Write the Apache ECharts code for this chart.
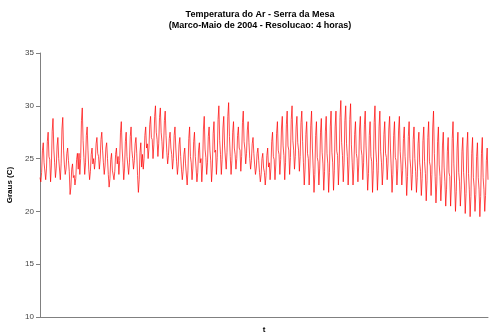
<!DOCTYPE html>
<html>
<head>
<meta charset="utf-8">
<script src="https://cdn.jsdelivr.net/npm/echarts@6/dist/echarts.min.js"></script>
<style>
html,body{margin:0;padding:0;background:#fff;}
#c{width:489px;height:332px;}
</style>
</head>
<body>
<div id="c"></div>
<script>
// Temperatura do ar, resolucao 4 horas (00h,04h,08h,12h,16h,20h), Marco-Maio 2004
var temperatura = [
23.2,22.8,23.7,25.8,26.5,24.6, 24.5,23.0,24.1,26.6,27.5,25.2, 24.9,22.8,24.3,27.6,28.8,25.9,
24.6,23.2,24.1,26.2,27.0,25.0, 25.0,23.0,24.5,27.8,28.9,25.8, 24.4,23.5,24.0,25.5,26.0,24.8,
23.8,21.6,22.3,24.0,24.5,23.2, 23.4,22.5,23.1,24.9,25.5,24.0, 25.5,23.5,25.0,28.6,29.8,26.7,
25.1,23.5,24.6,27.2,28.0,25.8, 24.0,23.0,23.8,25.4,26.0,24.5, 25.0,24.0,24.8,26.4,27.0,25.5,
25.2,24.0,24.9,26.8,27.5,25.8, 24.6,23.5,24.3,26.0,26.5,25.0, 23.5,22.3,23.1,24.9,25.5,23.9,
24.0,23.0,23.8,25.4,26.0,24.5, 25.2,23.5,24.8,27.5,28.5,26.0, 24.6,23.0,24.1,26.6,27.5,25.2,
25.1,23.5,24.6,27.1,28.0,25.8, 25.0,24.0,24.8,26.4,27.0,25.5, 23.4,21.8,23.0,25.6,26.5,24.2,
25.4,24.0,25.0,27.2,28.0,26.0, 26.4,25.0,26.0,28.2,29.0,27.0, 26.8,25.0,26.3,29.0,30.0,27.5,
26.8,25.2,26.4,28.9,29.8,27.5, 26.6,25.0,26.1,28.6,29.5,27.2, 25.6,24.5,25.3,26.9,27.5,26.0,
25.4,24.0,25.0,27.2,28.0,26.0, 24.7,23.5,24.4,26.3,27.0,25.2, 24.0,23.0,23.8,25.4,26.0,24.5,
24.4,22.5,23.9,26.9,28.0,25.2, 24.6,23.0,24.1,26.6,27.5,25.2, 24.1,22.8,23.7,25.8,26.5,24.6,
25.0,22.8,24.4,27.8,29.0,25.9, 25.1,23.5,24.6,27.1,28.0,25.8, 24.8,22.8,24.2,27.4,28.5,25.6,
25.8,23.5,25.1,28.7,30.0,26.7, 25.4,23.5,24.9,27.9,29.0,26.2, 26.2,24.0,25.6,29.0,30.3,27.1,
25.2,23.5,24.8,27.5,28.5,26.0, 25.4,24.0,25.0,27.2,28.0,26.0, 25.8,23.8,25.2,28.4,29.5,26.6,
25.9,24.5,25.5,27.7,28.5,26.5, 25.0,24.0,24.8,26.4,27.0,25.5, 24.4,23.5,24.1,25.5,26.0,24.8,
23.7,22.8,23.5,25.0,25.5,24.1, 23.7,22.5,23.4,25.3,26.0,24.2, 24.6,23.0,24.1,26.6,27.5,25.2,
24.9,23.0,24.4,27.4,28.5,25.8, 25.4,23.5,24.9,27.9,29.0,26.2, 25.3,23.0,24.6,28.2,29.5,26.2,
25.8,23.5,25.1,28.7,30.0,26.7, 25.8,24.0,25.2,28.0,29.0,26.5, 25.8,23.8,25.2,28.4,29.5,26.6,
24.6,22.5,24.0,27.3,28.5,25.5, 25.0,22.5,24.3,28.1,29.5,26.0, 24.1,21.8,23.5,27.2,28.5,25.1,
24.7,22.5,24.1,27.5,28.8,25.6, 24.5,22.0,23.8,27.6,29.0,25.5, 24.5,21.8,23.7,28.0,29.5,25.6,
24.6,22.0,23.9,28.0,29.5,25.7, 25.3,22.5,24.5,28.9,30.5,26.5, 25.3,22.8,24.6,28.6,30.0,26.4,
25.2,22.5,24.4,28.7,30.2,26.3, 24.6,22.5,24.0,27.3,28.5,25.5, 25.0,22.8,24.4,27.8,29.0,25.9,
25.3,23.0,24.6,28.2,29.5,26.2, 24.3,22.0,23.6,27.2,28.5,25.2, 24.7,21.8,23.9,28.4,30.0,25.9,
24.6,22.0,23.9,28.0,29.5,25.7, 24.6,22.5,24.0,27.3,28.5,25.5, 25.1,23.0,24.5,27.8,29.0,26.0,
24.1,21.8,23.5,27.2,28.5,25.1, 24.8,22.5,24.1,27.7,29.0,25.7, 24.4,22.5,23.9,26.9,28.0,25.2,
24.0,21.5,23.3,27.1,28.5,25.0, 24.1,22.0,23.5,26.8,28.0,25.0, 23.8,21.8,23.2,26.4,27.5,24.6,
23.8,21.5,23.1,26.7,28.0,24.7, 23.6,21.0,22.9,27.0,28.5,24.7, 24.3,21.5,23.5,27.9,29.5,25.5,
23.3,20.8,22.6,26.6,28.0,24.4, 23.3,21.0,22.6,26.2,27.5,24.2, 22.8,20.5,22.1,25.7,27.0,23.7,
23.3,20.5,22.5,26.9,28.5,24.5, 22.6,20.0,21.9,26.0,27.5,23.7, 22.8,20.5,22.1,25.7,27.0,23.7,
22.5,19.8,21.7,26.0,27.5,23.6, 22.1,19.5,21.4,25.5,27.0,23.2, 22.3,20.0,21.6,25.2,26.5,23.2,
22.1,19.5,21.4,25.5,27.0,23.2, 22.1,20.0,21.5,24.8,26.0,23.0
];
var yTicks = [10, 15, 20, 25, 30, 35];
var titulo = 'Temperatura do Ar - Serra da Mesa';
var subtitulo = '(Marco-Maio de 2004 - Resolucao: 4 horas)';

var categorias = [];
for (var i = 0; i < temperatura.length; i++) categorias.push(String(i * 4));

var chart = echarts.init(document.getElementById('c'), null, {renderer: 'canvas'});
chart.setOption({
  animation: false,
  backgroundColor: '#ffffff',
  title: {
    text: titulo + '\n' + subtitulo,
    left: 255, top: 4, textAlign: 'center',
    textStyle: {fontFamily: 'Liberation Sans, Arial', fontSize: 9, fontWeight: 'bold', color: '#000', lineHeight: 11}
  },
  grid: {left: 40, right: 1, top: 53, bottom: 15, containLabel: false, outerBoundsMode: 'none'},
  xAxis: {
    type: 'category', data: categorias, boundaryGap: false,
    name: 't', nameLocation: 'middle', nameGap: 9,
    nameTextStyle: {fontFamily: 'Liberation Sans, Arial', fontSize: 8, fontWeight: 'bold', color: '#000'},
    axisLine: {lineStyle: {color: '#808080', width: 1}},
    axisTick: {show: false}, axisLabel: {show: false}, splitLine: {show: false}
  },
  yAxis: {
    type: 'value', min: yTicks[0], max: yTicks[yTicks.length - 1], interval: 5,
    name: 'Graus (C)', nameLocation: 'middle', nameGap: 20, nameRotate: 90,
    nameTextStyle: {fontFamily: 'Liberation Sans, Arial', fontSize: 8, fontWeight: 'bold', color: '#000'},
    axisLine: {show: true, lineStyle: {color: '#808080', width: 1}},
    axisTick: {show: true, length: 4, inside: false, lineStyle: {color: '#808080'}},
    axisLabel: {fontFamily: 'Liberation Sans, Arial', fontSize: 8, color: '#444', margin: 6},
    splitLine: {show: false}
  },
  series: [{
    type: 'line', data: temperatura, showSymbol: false, symbol: 'none',
    lineStyle: {color: '#ff0000', width: 0.7}, silent: true
  }]
});
</script>
</body>
</html>
